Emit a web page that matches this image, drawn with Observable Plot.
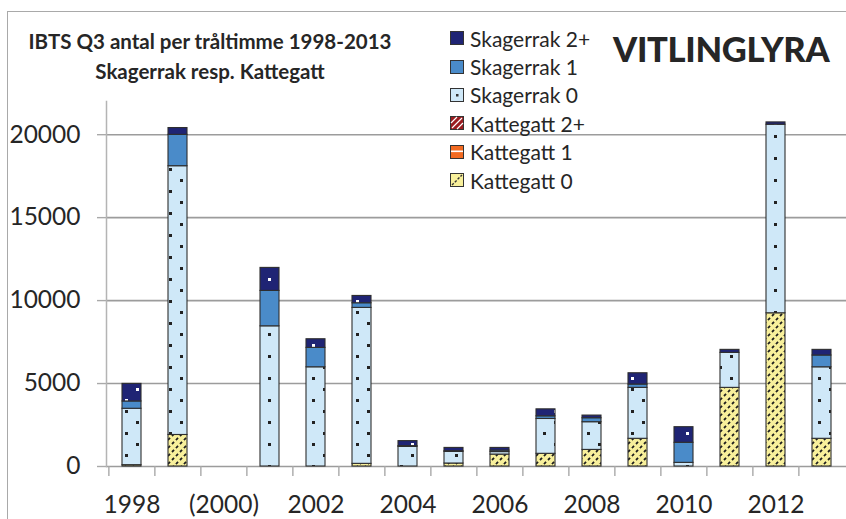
<!DOCTYPE html>
<html>
<head>
<meta charset="utf-8">
<script src="https://cdn.jsdelivr.net/npm/d3@7"></script>
<script src="https://cdn.jsdelivr.net/npm/@observablehq/plot@0.6"></script>
<style>
  html, body { margin: 0; padding: 0; background: #fff; }
  #wrap { position: relative; width: 846px; height: 519px; overflow: hidden; font-family: Lato, "Open Sans", sans-serif; color: #262626; }
  #border { position: absolute; left: 7px; top: 11px; width: 1000px; height: 1000px; border-left: 1.5px solid #a9a9a9; border-top: 1.5px solid #a9a9a9; }
  #chart { position: absolute; left: 0; top: 0; }
  .title { position: absolute; left: 5px; width: 410px; text-align: center; font-weight: 700; font-size: 20.5px; white-space: nowrap; }
  #big { position: absolute; left: 613px; top: 28px; font-weight: 900; font-size: 34.5px; letter-spacing: -0.3px; white-space: nowrap; }
  #legend { position: absolute; left: 450px; top: 24px; }
  .li { position: relative; height: 28.4px; display: flex; align-items: center; font-size: 21px; white-space: nowrap; }
  .li svg { margin-right: 6px; flex: none; }
</style>
</head>
<body>
<div id="wrap">
  <div id="border"></div>
  <div id="chart"></div>
  <div class="title" style="top:29px">IBTS Q3 antal per tråltimme 1998-2013</div>
  <div class="title" style="top:59px">Skagerrak resp. Kattegatt</div>
  <div id="big">VITLINGLYRA</div>
  <div id="legend"></div>
</div>
<script>
// ---- data ----
const years = ["1998","1999","2000","2001","2002","2003","2004","2005","2006","2007","2008","2009","2010","2011","2012","2013"];
const seriesNames = ["Kattegatt 0","Kattegatt 1","Kattegatt 2+","Skagerrak 0","Skagerrak 1","Skagerrak 2+"];
const kattegatt0  = [80, 1900, 0, 0, 0, 160, 0, 180, 720, 765, 1000, 1670, 0, 4740, 9235, 1670];
const kattegatt1  = [0, 0, 0, 0, 0, 0, 0, 0, 0, 0, 0, 0, 0, 0, 0, 0];
const kattegatt2p = [0, 0, 0, 0, 0, 0, 0, 0, 0, 0, 0, 0, 0, 0, 0, 0];
const skagerrak0  = [3400, 16200, 0, 8450, 5980, 9400, 1180, 700, 150, 2100, 1670, 3070, 220, 2110, 11365, 4310];
const skagerrak1  = [440, 1890, 0, 2134, 1170, 280, 50, 40, 90, 160, 240, 200, 1210, 0, 0, 710];
const skagerrak2p = [1060, 410, 0, 1386, 520, 440, 300, 200, 160, 420, 160, 680, 940, 180, 140, 340];
const yTicks = [0, 5000, 10000, 15000, 20000];
const labeledYears = {"1998":"1998","2000":"(2000)","2002":"2002","2004":"2004","2006":"2006","2008":"2008","2010":"2010","2012":"2012"};
const legendOrder = ["Skagerrak 2+","Skagerrak 1","Skagerrak 0","Kattegatt 2+","Kattegatt 1","Kattegatt 0"];

// ---- build table ----
const seriesValues = [kattegatt0, kattegatt1, kattegatt2p, skagerrak0, skagerrak1, skagerrak2p];
const rows = [];
years.forEach((y, i) => {
  seriesNames.forEach((s, j) => {
    const v = seriesValues[j][i];
    if (v > 0) rows.push({year: y, series: s, value: v});
  });
});

const fills = {
  "Kattegatt 0": "url(#pK0)",
  "Kattegatt 1": "url(#pK1)",
  "Kattegatt 2+": "url(#pK2)",
  "Skagerrak 0": "url(#pS0)",
  "Skagerrak 1": "#4a8bc9",
  "Skagerrak 2+": "url(#pS2)"
};

const W = 846, H = 519, mL = 106, mR = 0;
const step = (W - mL - mR) / years.length;

const plot = Plot.plot({
  width: W, height: H,
  marginLeft: mL, marginRight: mR, marginTop: 101, marginBottom: 53,
  style: {fontFamily: "Lato, 'Open Sans', sans-serif", fontSize: "24.5px", color: "#262626", background: "transparent", overflow: "visible"},
  x: {type: "band", domain: years, paddingInner: 0.59, paddingOuter: 0.295, align: 0.5, axis: null},
  y: {domain: [0, 22000], axis: null},
  color: {type: "ordinal", domain: seriesNames, range: seriesNames.map(s => fills[s])},
  marks: [
    Plot.gridY(yTicks, {stroke: "#9c9c9c", strokeOpacity: 1, strokeWidth: 1.6}),
    Plot.axisY(yTicks, {tickSize: 9, tickPadding: 17, stroke: "#a9a9a9", strokeWidth: 1.4, tickFormat: d => String(d), fontSize: 24.5, fill: "#262626", label: null}),
    Plot.frame({anchor: "left", stroke: "#b4b4b4", strokeWidth: 1.5}),
    Plot.axisX(years, {tickSize: 10, tickFormat: () => "", dx: -step / 2, stroke: "#a9a9a9", strokeWidth: 1.4, label: null}),
    Plot.axisX(years, {tickSize: 0, tickPadding: 29, tickFormat: d => labeledYears[d] || "", fontSize: 24.5, fill: "#262626", label: null}),
    Plot.barY(rows, Plot.stackY({x: "year", y: "value", fill: "series", z: "series", order: seriesNames, stroke: "#2e2e2e", strokeWidth: 1.1}))
  ]
});

// ---- patterns ----
const defs = d3.select(plot).insert("defs", ":first-child");
const pS0 = defs.append("pattern").attr("id", "pS0").attr("patternUnits", "userSpaceOnUse").attr("width", 22).attr("height", 22);
pS0.append("rect").attr("width", 22).attr("height", 22).attr("fill", "#cfe8f8");
pS0.append("rect").attr("x", 4).attr("y", 3).attr("width", 3).attr("height", 3).attr("fill", "#222");
pS0.append("rect").attr("x", 15).attr("y", 14).attr("width", 3).attr("height", 3).attr("fill", "#222");
const pS2 = defs.append("pattern").attr("id", "pS2").attr("patternUnits", "userSpaceOnUse").attr("width", 22).attr("height", 22);
pS2.append("rect").attr("width", 22).attr("height", 22).attr("fill", "#1f2474");
pS2.append("rect").attr("x", 4).attr("y", 14).attr("width", 3).attr("height", 3).attr("fill", "#fff");
pS2.append("rect").attr("x", 15).attr("y", 3).attr("width", 3).attr("height", 3).attr("fill", "#fff");
const pK0 = defs.append("pattern").attr("id", "pK0").attr("patternUnits", "userSpaceOnUse").attr("width", 8).attr("height", 8);
pK0.append("rect").attr("width", 8).attr("height", 8).attr("fill", "#f8f09b");
pK0.append("path").attr("d", "M0,8 L8,0").attr("stroke", "#1e1e1e").attr("stroke-width", 1.8).attr("stroke-dasharray", "2.9 2.76");
pK0.append("path").attr("d", "M-4,4 L4,-4 M4,12 L12,4").attr("stroke", "#1e1e1e").attr("stroke-width", 1.8).attr("stroke-dasharray", "2.9 2.76").attr("stroke-dashoffset", 2.83);
const pK1 = defs.append("pattern").attr("id", "pK1").attr("patternUnits", "userSpaceOnUse").attr("width", 8).attr("height", 8);
pK1.append("rect").attr("width", 8).attr("height", 8).attr("fill", "#f26a21");
pK1.append("rect").attr("y", 3).attr("width", 8).attr("height", 1.5).attr("fill", "#fff");
const pK2 = defs.append("pattern").attr("id", "pK2").attr("patternUnits", "userSpaceOnUse").attr("width", 6).attr("height", 6);
pK2.append("rect").attr("width", 6).attr("height", 6).attr("fill", "#9b1c20");
pK2.append("path").attr("d", "M-1,7 L7,-1").attr("stroke", "#fff").attr("stroke-width", 1.2);

document.getElementById("chart").appendChild(plot);

// ---- legend ----
const swatch = {
  "Skagerrak 2+": '<rect x="0.5" y="0.5" width="13" height="13" fill="#1f2474" stroke="#333"/>',
  "Skagerrak 1": '<rect x="0.5" y="0.5" width="13" height="13" fill="#4a8bc9" stroke="#333"/>',
  "Skagerrak 0": '<rect x="0.5" y="0.5" width="13" height="13" fill="#cfe8f8" stroke="#333"/><rect x="6" y="6" width="2.5" height="2.5" fill="#333"/>',
  "Kattegatt 2+": '<rect x="0.5" y="0.5" width="13" height="13" fill="#9b1c20" stroke="#333"/><path d="M2,12 L12,2 M1,7 L7,1 M7,13 L13,7" stroke="#fff" stroke-width="1.2"/>',
  "Kattegatt 1": '<rect x="0.5" y="0.5" width="13" height="13" fill="#f26a21" stroke="#333"/><rect x="1" y="5.5" width="12" height="1.6" fill="#fff"/>',
  "Kattegatt 0": '<rect x="0.5" y="0.5" width="13" height="13" fill="#f8f09b" stroke="#333"/><path d="M2,12 L12,2" stroke="#333" stroke-width="1.4" stroke-dasharray="2.5 1.5"/>'
};
const lg = document.getElementById("legend");
legendOrder.forEach(s => {
  const d = document.createElement("div");
  d.className = "li";
  d.innerHTML = '<svg width="14" height="14">' + swatch[s] + '</svg><span>' + s + '</span>';
  lg.appendChild(d);
});
</script>
</body>
</html>
